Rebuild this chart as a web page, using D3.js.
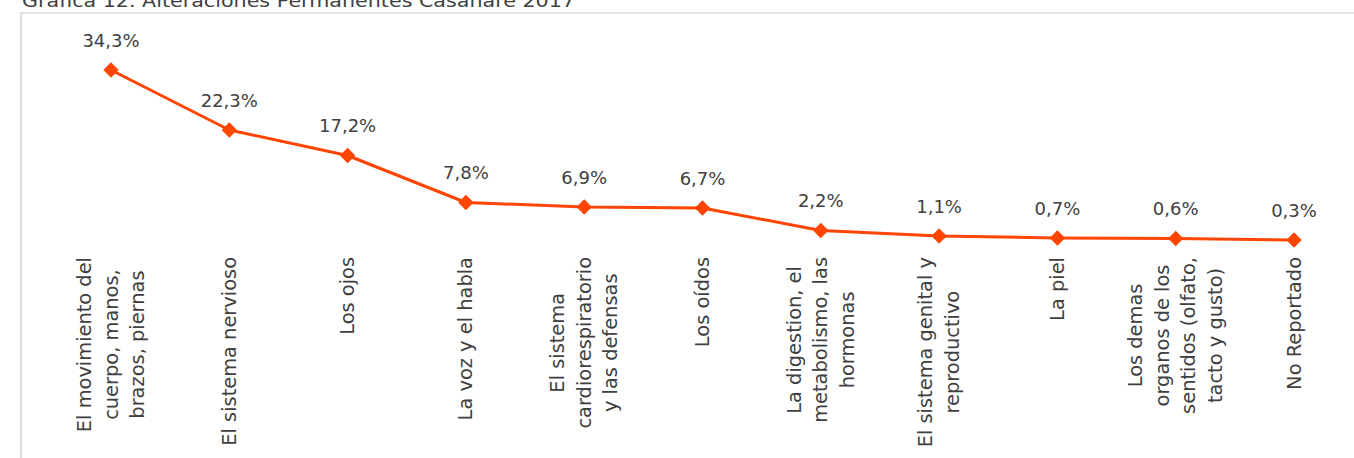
<!DOCTYPE html>
<html><head><meta charset="utf-8">
<script src="https://cdn.jsdelivr.net/npm/d3@7"></script>
<style>html,body{margin:0;padding:0;background:#fff;overflow:hidden}</style>
</head><body>
<script>
const title = "Gráfica 12. Alteraciones Permanentes Casanare 2017";
const categories = [
  "El movimiento del\ncuerpo, manos,\nbrazos, piernas",
  "El sistema nervioso",
  "Los ojos",
  "La voz y el habla",
  "El sistema\ncardiorespiratorio\ny las defensas",
  "Los oídos",
  "La digestion, el\nmetabolismo, las\nhormonas",
  "El sistema genital y\nreproductivo",
  "La piel",
  "Los demas\norganos de los\nsentidos (olfato,\ntacto y gusto)",
  "No Reportado"
];
const values = [34.3, 22.3, 17.2, 7.8, 6.9, 6.7, 2.2, 1.1, 0.7, 0.6, 0.3];
const valueLabels = ["34,3%","22,3%","17,2%","7,8%","6,9%","6,7%","2,2%","1,1%","0,7%","0,6%","0,3%"];

const W = 1354, H = 458;
const FONT = "DejaVu Sans";
const textColor = "#404040";
const lineColor = "#FF4500";

const svg = d3.select("body").append("svg").attr("width", W).attr("height", H);

// frame
svg.append("path").attr("d", `M21,${H+2} L21,13 L${W+2},13`)
  .attr("fill","none").attr("stroke","#d9d9d9").attr("stroke-width",1.6);

// title (cut off at top as in the source)
svg.append("text").attr("x", 22).attr("y", 7)
  .attr("font-family", FONT).attr("font-size", 18).attr("fill", textColor)
  .attr("textLength", 553).attr("lengthAdjust","spacingAndGlyphs")
  .text(title);

const x = d3.scalePoint().domain(categories).range([111, 1294]);
const y = d3.scaleLinear().domain([0, 40]).range([241.5, 41.5]);

const line = d3.line().x((d,i)=>x(categories[i])).y(d=>y(d));
svg.append("path").datum(values).attr("d", line)
  .attr("fill","none").attr("stroke", lineColor).attr("stroke-width", 3).attr("stroke-linejoin","round");

const diamond = d3.symbol().type(d3.symbolDiamond2).size(150);
svg.selectAll(".pt").data(values).join("path")
  .attr("transform",(d,i)=>`translate(${x(categories[i])},${y(d)})`)
  .attr("d", diamond).attr("fill", lineColor);

svg.selectAll(".vl").data(values).join("text")
  .attr("x",(d,i)=>x(categories[i])).attr("y", d=>y(d)-30)
  .attr("text-anchor","middle").attr("dominant-baseline","central")
  .attr("font-family", FONT).attr("font-size", 18).attr("fill", textColor)
  .text((d,i)=>valueLabels[i]);

// category labels
const labelTop = 257, lineGap = 26.5;
categories.forEach((c,i)=>{
  const lines = c.split("\n");
  const g = svg.append("g").attr("transform",`translate(${x(c)},${labelTop}) rotate(-90)`);
  const ts = lines.map((l,j)=> g.append("text")
      .attr("y", (j-(lines.length-1)/2)*lineGap)
      .attr("dominant-baseline","central").attr("text-anchor","middle")
      .attr("font-family", FONT).attr("font-size", 19.4).attr("fill", textColor)
      .text(l));
  const maxW = d3.max(ts, t=>t.node().getComputedTextLength());
  ts.forEach(t=>t.attr("x", -maxW/2));
});
</script>
</body></html>
